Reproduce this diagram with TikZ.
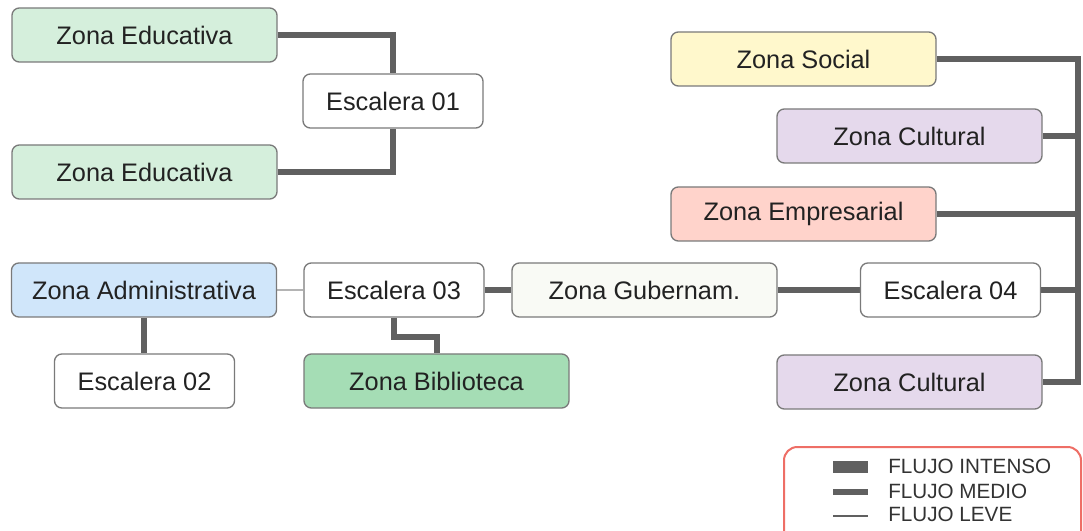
\documentclass[tikz,border=0pt]{standalone}
\usepackage{fontspec}
\setmainfont{Liberation Sans}
\usetikzlibrary{backgrounds}
\definecolor{boxline}{HTML}{7A7A7A}
\definecolor{txt}{HTML}{222222}
\definecolor{legtxt}{HTML}{333333}
\definecolor{flowc}{HTML}{606060}
\definecolor{lightflow}{HTML}{B4B4B4}
\definecolor{cEdu}{HTML}{D5EFDC}
\definecolor{cAdm}{HTML}{D0E6FA}
\definecolor{cBib}{HTML}{A5DDB5}
\definecolor{cGub}{HTML}{F9FAF5}
\definecolor{cSoc}{HTML}{FFF8CC}
\definecolor{cCul}{HTML}{E5D9EC}
\definecolor{cEmp}{HTML}{FFD3CB}
\definecolor{legendline}{HTML}{EE6E66}
\tikzset{
  zone/.style={draw=boxline, line width=1pt, rounded corners=5.5pt, inner sep=0pt,
    minimum height=40.5pt, text=txt, font=\fontsize{19}{23}\selectfont},
  wide/.style={zone, minimum width=198.75pt},
  narrow/.style={zone, minimum width=135pt, fill=white},
  flow/.style={draw=flowc, line width=4.5pt, line join=miter},
  flowlight/.style={draw=lightflow, line width=1.5pt},
  legtext/.style={anchor=west, text=legtxt, inner sep=0pt, font=\fontsize{15.5}{18}\selectfont}
}
\begin{document}
\begin{tikzpicture}[x=0.75pt, y=-0.75pt]
\useasboundingbox (0,0) rectangle (1083,531);

% zones and stairs
\node[wide, fill=cEdu] (edu1) at (144.5,35) {Zona Educativa};
\node[wide, fill=cEdu] (edu2) at (144.5,172) {Zona Educativa};
\node[narrow] (esc1) at (393,101) {Escalera 01};
\node[wide, fill=cAdm] (adm) at (144,290) {Zona Administrativa};
\node[narrow] (esc3) at (394,290) {Escalera 03};
\node[wide, fill=cGub] (gub) at (644.5,290) {Zona Gubernam.};
\node[narrow] (esc4) at (950.5,290) {Escalera 04};
\node[narrow] (esc2) at (144.5,381) {Escalera 02};
\node[wide, fill=cBib] (bib) at (436.5,381) {Zona Biblioteca};
\node[wide, fill=cSoc] (soc) at (803.5,59) {Zona Social};
\node[wide, fill=cCul] (cul1) at (909.5,136) {Zona Cultural};
\node[wide, fill=cEmp] (emp) at (803.5,214) {Zona Empresarial};
\node[wide, fill=cCul] (cul2) at (909.5,382) {Zona Cultural};
\coordinate (bus) at (1078,0);

% flows
\begin{pgfonlayer}{background}
  \draw[flow] (edu1.east) -| (esc1.north);
  \draw[flow] (edu2.east) -| (esc1.south);
  \draw[flowlight] (adm.east) -- (esc3.west);
  \draw[flow] (adm.south) -- (adm.south |- esc2.north);
  \draw[flow] (esc3.south) -- ++(0,19) -| (bib.north);
  \draw[flow] (esc3.east) -- (gub.west);
  \draw[flow] (gub.east) -- (esc4.west);
  \draw[flow] (soc.east) -- (soc.east -| bus) -- (cul2.east -| bus) -- (cul2.east);
  \draw[flow] (cul1.east) -- (cul1.east -| bus);
  \draw[flow] (emp.east) -- (emp.east -| bus);
  \draw[flow] (esc4.east) -- (esc4.east -| bus);
\end{pgfonlayer}

% legend
\begin{scope}
  \clip (0,0) rectangle (1083,531);
  \draw[legendline, line width=1.5pt, rounded corners=10pt] (784,447) rectangle (1081,548);
\end{scope}
\node[fill=flowc, inner sep=0pt, minimum width=26.25pt, minimum height=8.5pt] (lint) at (850.5,467) {};
\coordinate (lm1) at (833,492);
\coordinate (lm2) at (868,492);
\draw[flowc, line width=4pt] (lm1) -- (lm2);
\coordinate (ll1) at (833,516);
\coordinate (ll2) at (868,516);
\draw[flowc, line width=1.6pt] (ll1) -- (ll2);
\node[legtext] (tint) at (888,466) {FLUJO INTENSO};
\node[legtext] (tmed) at (888,491) {FLUJO MEDIO};
\node[legtext] (tlev) at (888,514) {FLUJO LEVE};
\end{tikzpicture}
\end{document}
